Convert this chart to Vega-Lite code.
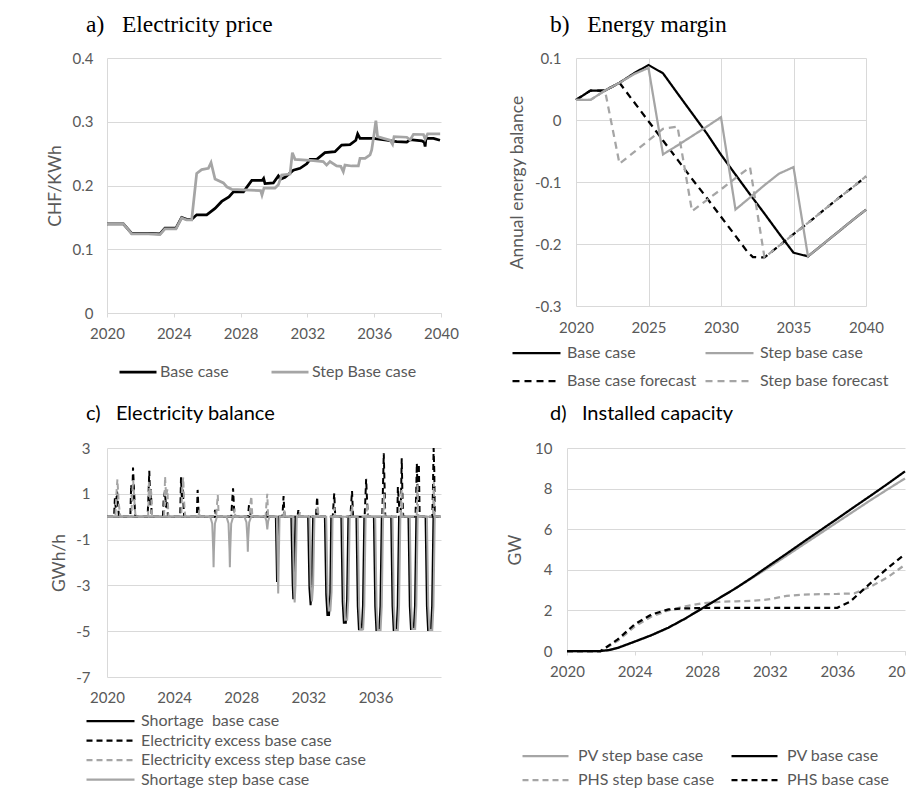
{
"$schema":"https://vega.github.io/schema/vega-lite/v6.json",
"autosize":{"type":"none"},
"padding":{"left":107,"top":58,"right":799,"bottom":735},
"background":"#ffffff",
"config":{
 "view":{"stroke":null},
 "font":"Lato",
 "axis":{"labelFont":"Lato","labelFontSize":15,"labelColor":"#595959","titleFont":"Lato","titleFontSize":17.5,"titleColor":"#595959","titleFontWeight":"normal","gridColor":"#d9d9d9","gridWidth":1,"domainColor":"#d9d9d9","domainWidth":1,"tickColor":"#d9d9d9","labelFlush":false,"labelOverlap":false},
 "legend":{"labelFont":"Lato","labelFontSize":16,"labelColor":"#595959","symbolType":"stroke","padding":0,"labelLimit":400,"direction":"horizontal","clipHeight":18},
 "title":{"color":"#000000","fontWeight":"normal","anchor":"start","frame":"group"}
},
"datasets":{
 "price":[
  {"s":"Base case","t":2020,"v":0.140},{"s":"Base case","t":2020.98,"v":0.140},{"s":"Base case","t":2021.48,"v":0.125},{"s":"Base case","t":2022.47,"v":0.125},{"s":"Base case","t":2023.17,"v":0.124},{"s":"Base case","t":2023.47,"v":0.133},{"s":"Base case","t":2024.13,"v":0.133},{"s":"Base case","t":2024.47,"v":0.150},{"s":"Base case","t":2024.77,"v":0.147},{"s":"Base case","t":2025.07,"v":0.147},{"s":"Base case","t":2025.37,"v":0.154},{"s":"Base case","t":2025.97,"v":0.154},{"s":"Base case","t":2026.47,"v":0.164},{"s":"Base case","t":2026.87,"v":0.175},{"s":"Base case","t":2027.3,"v":0.182},{"s":"Base case","t":2027.57,"v":0.190},{"s":"Base case","t":2028.17,"v":0.190},{"s":"Base case","t":2028.67,"v":0.208},{"s":"Base case","t":2029.3,"v":0.208},{"s":"Base case","t":2029.38,"v":0.211},{"s":"Base case","t":2029.46,"v":0.203},{"s":"Base case","t":2029.96,"v":0.204},{"s":"Base case","t":2030.26,"v":0.215},{"s":"Base case","t":2030.4,"v":0.210},{"s":"Base case","t":2030.66,"v":0.213},{"s":"Base case","t":2031.16,"v":0.224},{"s":"Base case","t":2031.56,"v":0.227},{"s":"Base case","t":2031.96,"v":0.234},{"s":"Base case","t":2032.16,"v":0.241},{"s":"Base case","t":2032.56,"v":0.241},{"s":"Base case","t":2033.05,"v":0.2515},{"s":"Base case","t":2033.65,"v":0.253},{"s":"Base case","t":2034.05,"v":0.2635},{"s":"Base case","t":2034.55,"v":0.264},{"s":"Base case","t":2034.9,"v":0.271},{"s":"Base case","t":2035.01,"v":0.281},{"s":"Base case","t":2035.15,"v":0.274},{"s":"Base case","t":2035.95,"v":0.274},{"s":"Base case","t":2036.75,"v":0.271},{"s":"Base case","t":2037.35,"v":0.269},{"s":"Base case","t":2037.95,"v":0.268},{"s":"Base case","t":2038.15,"v":0.272},{"s":"Base case","t":2038.85,"v":0.270},{"s":"Base case","t":2039.0,"v":0.268},{"s":"Base case","t":2039.05,"v":0.261},{"s":"Base case","t":2039.1,"v":0.274},{"s":"Base case","t":2039.55,"v":0.274},{"s":"Base case","t":2039.94,"v":0.271},
  {"s":"Step Base case","t":2020,"v":0.140},{"s":"Step Base case","t":2020.98,"v":0.140},{"s":"Step Base case","t":2021.48,"v":0.124},{"s":"Step Base case","t":2022.47,"v":0.124},{"s":"Step Base case","t":2023.17,"v":0.123},{"s":"Step Base case","t":2023.47,"v":0.132},{"s":"Step Base case","t":2024.13,"v":0.132},{"s":"Step Base case","t":2024.47,"v":0.149},{"s":"Step Base case","t":2024.77,"v":0.146},{"s":"Step Base case","t":2025.07,"v":0.146},{"s":"Step Base case","t":2025.37,"v":0.219},{"s":"Step Base case","t":2025.67,"v":0.225},{"s":"Step Base case","t":2026.07,"v":0.227},{"s":"Step Base case","t":2026.23,"v":0.236},{"s":"Step Base case","t":2026.47,"v":0.210},{"s":"Step Base case","t":2026.97,"v":0.204},{"s":"Step Base case","t":2027.17,"v":0.198},{"s":"Step Base case","t":2027.47,"v":0.194},{"s":"Step Base case","t":2028.17,"v":0.193},{"s":"Step Base case","t":2029.2,"v":0.192},{"s":"Step Base case","t":2029.28,"v":0.185},{"s":"Step Base case","t":2029.4,"v":0.196},{"s":"Step Base case","t":2030.06,"v":0.196},{"s":"Step Base case","t":2030.26,"v":0.201},{"s":"Step Base case","t":2030.46,"v":0.2165},{"s":"Step Base case","t":2030.96,"v":0.218},{"s":"Step Base case","t":2031.1,"v":0.2515},{"s":"Step Base case","t":2031.26,"v":0.241},{"s":"Step Base case","t":2032.36,"v":0.239},{"s":"Step Base case","t":2032.95,"v":0.2375},{"s":"Step Base case","t":2033.15,"v":0.232},{"s":"Step Base case","t":2033.35,"v":0.2375},{"s":"Step Base case","t":2033.75,"v":0.2306},{"s":"Step Base case","t":2034.0,"v":0.230},{"s":"Step Base case","t":2034.15,"v":0.2217},{"s":"Step Base case","t":2034.25,"v":0.232},{"s":"Step Base case","t":2034.65,"v":0.2306},{"s":"Step Base case","t":2035.05,"v":0.2306},{"s":"Step Base case","t":2035.15,"v":0.2426},{"s":"Step Base case","t":2035.45,"v":0.2426},{"s":"Step Base case","t":2035.75,"v":0.248},{"s":"Step Base case","t":2035.85,"v":0.2557},{"s":"Step Base case","t":2036.0,"v":0.282},{"s":"Step Base case","t":2036.1,"v":0.3017},{"s":"Step Base case","t":2036.2,"v":0.2767},{"s":"Step Base case","t":2036.55,"v":0.274},{"s":"Step Base case","t":2036.95,"v":0.271},{"s":"Step Base case","t":2037.1,"v":0.2646},{"s":"Step Base case","t":2037.19,"v":0.2767},{"s":"Step Base case","t":2037.95,"v":0.2757},{"s":"Step Base case","t":2038.15,"v":0.2715},{"s":"Step Base case","t":2038.35,"v":0.2803},{"s":"Step Base case","t":2038.95,"v":0.280},{"s":"Step Base case","t":2039.05,"v":0.273},{"s":"Step Base case","t":2039.2,"v":0.281},{"s":"Step Base case","t":2039.95,"v":0.281}
 ],
 "margin":[
  {"s":"Base case","t":2020,"v":0.0324},{"s":"Base case","t":2021,"v":0.0475},{"s":"Base case","t":2022,"v":0.0475},{"s":"Base case","t":2023,"v":0.06},{"s":"Base case","t":2024,"v":0.0753},{"s":"Base case","t":2025,"v":0.0887},{"s":"Base case","t":2026,"v":0.0753},{"s":"Base case","t":2027,"v":0.043},{"s":"Base case","t":2028,"v":0.011},{"s":"Base case","t":2029,"v":-0.021},{"s":"Base case","t":2030,"v":-0.056},{"s":"Base case","t":2031,"v":-0.088},{"s":"Base case","t":2032,"v":-0.12},{"s":"Base case","t":2033,"v":-0.151},{"s":"Base case","t":2034,"v":-0.183},{"s":"Base case","t":2035,"v":-0.214},{"s":"Base case","t":2036,"v":-0.22},{"s":"Base case","t":2037,"v":-0.201},{"s":"Base case","t":2038,"v":-0.182},{"s":"Base case","t":2039,"v":-0.163},{"s":"Base case","t":2040,"v":-0.1445},
  {"s":"Base case forecast","t":2020,"v":0.0324},{"s":"Base case forecast","t":2021,"v":0.0475},{"s":"Base case forecast","t":2022,"v":0.0475},{"s":"Base case forecast","t":2023,"v":0.06},{"s":"Base case forecast","t":2024,"v":0.029},{"s":"Base case forecast","t":2025,"v":-0.002},{"s":"Base case forecast","t":2026,"v":-0.033},{"s":"Base case forecast","t":2027,"v":-0.064},{"s":"Base case forecast","t":2028,"v":-0.095},{"s":"Base case forecast","t":2029,"v":-0.125},{"s":"Base case forecast","t":2030,"v":-0.156},{"s":"Base case forecast","t":2031,"v":-0.187},{"s":"Base case forecast","t":2031.8,"v":-0.212},{"s":"Base case forecast","t":2032.2,"v":-0.221},{"s":"Base case forecast","t":2033,"v":-0.2217},{"s":"Base case forecast","t":2034,"v":-0.203},{"s":"Base case forecast","t":2035,"v":-0.184},{"s":"Base case forecast","t":2036,"v":-0.166},{"s":"Base case forecast","t":2037,"v":-0.147},{"s":"Base case forecast","t":2038,"v":-0.128},{"s":"Base case forecast","t":2039,"v":-0.110},{"s":"Base case forecast","t":2040,"v":-0.091},
  {"s":"Step base forecast","t":2020,"v":0.0324},{"s":"Step base forecast","t":2021,"v":0.0324},{"s":"Step base forecast","t":2022,"v":0.0475},{"s":"Step base forecast","t":2023,"v":-0.0705},{"s":"Step base forecast","t":2024,"v":-0.052},{"s":"Step base forecast","t":2025,"v":-0.033},{"s":"Step base forecast","t":2026,"v":-0.0142},{"s":"Step base forecast","t":2027,"v":-0.0105},{"s":"Step base forecast","t":2028,"v":-0.147},{"s":"Step base forecast","t":2029,"v":-0.1295},{"s":"Step base forecast","t":2030,"v":-0.112},{"s":"Step base forecast","t":2031,"v":-0.0936},{"s":"Step base forecast","t":2032,"v":-0.076},{"s":"Step base forecast","t":2033,"v":-0.2217},{"s":"Step base forecast","t":2034,"v":-0.203},{"s":"Step base forecast","t":2035,"v":-0.184},{"s":"Step base forecast","t":2036,"v":-0.166},{"s":"Step base forecast","t":2037,"v":-0.147},{"s":"Step base forecast","t":2038,"v":-0.128},{"s":"Step base forecast","t":2039,"v":-0.110},{"s":"Step base forecast","t":2040,"v":-0.091},
  {"s":"Step base case","t":2020,"v":0.0324},{"s":"Step base case","t":2021,"v":0.0324},{"s":"Step base case","t":2022,"v":0.0475},{"s":"Step base case","t":2023,"v":0.06},{"s":"Step base case","t":2024,"v":0.074},{"s":"Step base case","t":2025,"v":0.084},{"s":"Step base case","t":2026,"v":-0.0555},{"s":"Step base case","t":2027,"v":-0.041},{"s":"Step base case","t":2028,"v":-0.026},{"s":"Step base case","t":2029,"v":-0.011},{"s":"Step base case","t":2030,"v":0.0046},{"s":"Step base case","t":2031,"v":-0.1445},{"s":"Step base case","t":2032,"v":-0.125},{"s":"Step base case","t":2033,"v":-0.105},{"s":"Step base case","t":2034,"v":-0.0866},{"s":"Step base case","t":2035,"v":-0.0759},{"s":"Step base case","t":2036,"v":-0.22},{"s":"Step base case","t":2037,"v":-0.201},{"s":"Step base case","t":2038,"v":-0.182},{"s":"Step base case","t":2039,"v":-0.163},{"s":"Step base case","t":2040,"v":-0.1445}
 ],
 "balance":[
  {"s":"Shortage\u00a0 base case","t":2020,"v":0},{"s":"Shortage\u00a0 base case","t":2030.06,"v":0},{"s":"Shortage\u00a0 base case","t":2030.13,"v":-2.85},{"s":"Shortage\u00a0 base case","t":2030.21,"v":0},{"s":"Shortage\u00a0 base case","t":2030.98,"v":0},{"s":"Shortage\u00a0 base case","t":2031.06,"v":-2.9},{"s":"Shortage\u00a0 base case","t":2031.1,"v":-3.6},{"s":"Shortage\u00a0 base case","t":2031.15,"v":-2.9},{"s":"Shortage\u00a0 base case","t":2031.23,"v":0},{"s":"Shortage\u00a0 base case","t":2031.98,"v":0},{"s":"Shortage\u00a0 base case","t":2032.06,"v":-3.1},{"s":"Shortage\u00a0 base case","t":2032.13,"v":-3.86},{"s":"Shortage\u00a0 base case","t":2032.2,"v":-3.1},{"s":"Shortage\u00a0 base case","t":2032.28,"v":0},{"s":"Shortage\u00a0 base case","t":2032.98,"v":0},{"s":"Shortage\u00a0 base case","t":2033.06,"v":-3.4},{"s":"Shortage\u00a0 base case","t":2033.13,"v":-4.29},{"s":"Shortage\u00a0 base case","t":2033.23,"v":-4.29},{"s":"Shortage\u00a0 base case","t":2033.3,"v":-3.4},{"s":"Shortage\u00a0 base case","t":2033.36,"v":0},{"s":"Shortage\u00a0 base case","t":2033.96,"v":0},{"s":"Shortage\u00a0 base case","t":2034.04,"v":-3.7},{"s":"Shortage\u00a0 base case","t":2034.11,"v":-4.63},{"s":"Shortage\u00a0 base case","t":2034.23,"v":-4.63},{"s":"Shortage\u00a0 base case","t":2034.3,"v":-3.7},{"s":"Shortage\u00a0 base case","t":2034.38,"v":0},{"s":"Shortage\u00a0 base case","t":2034.86,"v":0},{"s":"Shortage\u00a0 base case","t":2034.94,"v":-3.9},{"s":"Shortage\u00a0 base case","t":2035.01,"v":-4.92},{"s":"Shortage\u00a0 base case","t":2035.18,"v":-4.92},{"s":"Shortage\u00a0 base case","t":2035.25,"v":-3.9},{"s":"Shortage\u00a0 base case","t":2035.33,"v":0},{"s":"Shortage\u00a0 base case","t":2035.9,"v":0},{"s":"Shortage\u00a0 base case","t":2035.98,"v":-3.9},{"s":"Shortage\u00a0 base case","t":2036.05,"v":-4.95},{"s":"Shortage\u00a0 base case","t":2036.22,"v":-4.95},{"s":"Shortage\u00a0 base case","t":2036.29,"v":-3.9},{"s":"Shortage\u00a0 base case","t":2036.37,"v":0},{"s":"Shortage\u00a0 base case","t":2036.93,"v":0},{"s":"Shortage\u00a0 base case","t":2037.01,"v":-3.9},{"s":"Shortage\u00a0 base case","t":2037.08,"v":-4.95},{"s":"Shortage\u00a0 base case","t":2037.25,"v":-4.95},{"s":"Shortage\u00a0 base case","t":2037.32,"v":-3.9},{"s":"Shortage\u00a0 base case","t":2037.4,"v":0},{"s":"Shortage\u00a0 base case","t":2037.96,"v":0},{"s":"Shortage\u00a0 base case","t":2038.04,"v":-3.9},{"s":"Shortage\u00a0 base case","t":2038.11,"v":-4.9},{"s":"Shortage\u00a0 base case","t":2038.28,"v":-4.9},{"s":"Shortage\u00a0 base case","t":2038.35,"v":-3.9},{"s":"Shortage\u00a0 base case","t":2038.43,"v":0},{"s":"Shortage\u00a0 base case","t":2038.98,"v":0},{"s":"Shortage\u00a0 base case","t":2039.06,"v":-3.9},{"s":"Shortage\u00a0 base case","t":2039.13,"v":-4.95},{"s":"Shortage\u00a0 base case","t":2039.3,"v":-4.95},{"s":"Shortage\u00a0 base case","t":2039.37,"v":-3.9},{"s":"Shortage\u00a0 base case","t":2039.45,"v":0},{"s":"Shortage\u00a0 base case","t":2039.9,"v":0},
  {"s":"Electricity excess base case","t":2020,"v":0},{"s":"Electricity excess base case","t":2020.42,"v":0},{"s":"Electricity excess base case","t":2020.47,"v":0.8},{"s":"Electricity excess base case","t":2020.52,"v":0.4},{"s":"Electricity excess base case","t":2020.6,"v":1.1},{"s":"Electricity excess base case","t":2020.66,"v":0.5},{"s":"Electricity excess base case","t":2020.71,"v":0},
  {"s":"Electricity excess base case","t":2021.39,"v":0},{"s":"Electricity excess base case","t":2021.44,"v":1.4},{"s":"Electricity excess base case","t":2021.5,"v":0.6},{"s":"Electricity excess base case","t":2021.55,"v":2.15},{"s":"Electricity excess base case","t":2021.62,"v":1.0},{"s":"Electricity excess base case","t":2021.68,"v":0},
  {"s":"Electricity excess base case","t":2022.42,"v":0},{"s":"Electricity excess base case","t":2022.47,"v":0.9},{"s":"Electricity excess base case","t":2022.52,"v":2.0},{"s":"Electricity excess base case","t":2022.58,"v":0.5},{"s":"Electricity excess base case","t":2022.62,"v":1.2},{"s":"Electricity excess base case","t":2022.66,"v":0},
  {"s":"Electricity excess base case","t":2023.33,"v":0},{"s":"Electricity excess base case","t":2023.38,"v":0.8},{"s":"Electricity excess base case","t":2023.45,"v":1.1},{"s":"Electricity excess base case","t":2023.52,"v":0.4},{"s":"Electricity excess base case","t":2023.58,"v":0.7},{"s":"Electricity excess base case","t":2023.63,"v":0},
  {"s":"Electricity excess base case","t":2024.36,"v":0},{"s":"Electricity excess base case","t":2024.41,"v":1.72},{"s":"Electricity excess base case","t":2024.46,"v":0.8},{"s":"Electricity excess base case","t":2024.52,"v":1.2},{"s":"Electricity excess base case","t":2024.57,"v":0.3},{"s":"Electricity excess base case","t":2024.6,"v":0},
  {"s":"Electricity excess base case","t":2025.35,"v":0},{"s":"Electricity excess base case","t":2025.4,"v":1.17},{"s":"Electricity excess base case","t":2025.45,"v":0.3},{"s":"Electricity excess base case","t":2025.48,"v":0},
  {"s":"Electricity excess base case","t":2026.38,"v":0},{"s":"Electricity excess base case","t":2026.44,"v":0.3},{"s":"Electricity excess base case","t":2026.5,"v":0},
  {"s":"Electricity excess base case","t":2027.4,"v":0},{"s":"Electricity excess base case","t":2027.46,"v":0.7},{"s":"Electricity excess base case","t":2027.51,"v":1.24},{"s":"Electricity excess base case","t":2027.56,"v":0.5},{"s":"Electricity excess base case","t":2027.6,"v":0},
  {"s":"Electricity excess base case","t":2028.4,"v":0},{"s":"Electricity excess base case","t":2028.46,"v":0.51},{"s":"Electricity excess base case","t":2028.52,"v":0.3},{"s":"Electricity excess base case","t":2028.56,"v":0},
  {"s":"Electricity excess base case","t":2029.45,"v":0},{"s":"Electricity excess base case","t":2029.5,"v":0.12},{"s":"Electricity excess base case","t":2029.55,"v":0},
  {"s":"Electricity excess base case","t":2030.45,"v":0},{"s":"Electricity excess base case","t":2030.52,"v":0.9},{"s":"Electricity excess base case","t":2030.58,"v":0},
  {"s":"Electricity excess base case","t":2031.35,"v":0},{"s":"Electricity excess base case","t":2031.4,"v":0.29},{"s":"Electricity excess base case","t":2031.45,"v":0},
  {"s":"Electricity excess base case","t":2032.45,"v":0},{"s":"Electricity excess base case","t":2032.52,"v":0.87},{"s":"Electricity excess base case","t":2032.58,"v":0},
  {"s":"Electricity excess base case","t":2033.45,"v":0},{"s":"Electricity excess base case","t":2033.5,"v":0.6},{"s":"Electricity excess base case","t":2033.54,"v":1.02},{"s":"Electricity excess base case","t":2033.6,"v":0},
  {"s":"Electricity excess base case","t":2034.5,"v":0},{"s":"Electricity excess base case","t":2034.55,"v":0.6},{"s":"Electricity excess base case","t":2034.6,"v":1.12},{"s":"Electricity excess base case","t":2034.66,"v":0},
  {"s":"Electricity excess base case","t":2035.35,"v":0},{"s":"Electricity excess base case","t":2035.4,"v":0.9},{"s":"Electricity excess base case","t":2035.44,"v":1.65},{"s":"Electricity excess base case","t":2035.5,"v":0.6},{"s":"Electricity excess base case","t":2035.55,"v":0},
  {"s":"Electricity excess base case","t":2036.4,"v":0},{"s":"Electricity excess base case","t":2036.44,"v":1.2},{"s":"Electricity excess base case","t":2036.49,"v":2.77},{"s":"Electricity excess base case","t":2036.53,"v":1.6},{"s":"Electricity excess base case","t":2036.58,"v":0},
  {"s":"Electricity excess base case","t":2037.3,"v":0},{"s":"Electricity excess base case","t":2037.33,"v":1.3},{"s":"Electricity excess base case","t":2037.4,"v":0.5},{"s":"Electricity excess base case","t":2037.5,"v":0.2},{"s":"Electricity excess base case","t":2037.56,"v":2.55},{"s":"Electricity excess base case","t":2037.6,"v":1.0},{"s":"Electricity excess base case","t":2037.65,"v":0},
  {"s":"Electricity excess base case","t":2038.38,"v":0},{"s":"Electricity excess base case","t":2038.42,"v":1.0},{"s":"Electricity excess base case","t":2038.46,"v":2.33},{"s":"Electricity excess base case","t":2038.52,"v":0.6},{"s":"Electricity excess base case","t":2038.58,"v":2.3},{"s":"Electricity excess base case","t":2038.63,"v":0},
  {"s":"Electricity excess base case","t":2039.38,"v":0},{"s":"Electricity excess base case","t":2039.42,"v":1.2},{"s":"Electricity excess base case","t":2039.46,"v":3.0},{"s":"Electricity excess base case","t":2039.5,"v":2.0},{"s":"Electricity excess base case","t":2039.53,"v":0},{"s":"Electricity excess base case","t":2039.9,"v":0},
  {"s":"Electricity excess step base case","t":2020,"v":0},{"s":"Electricity excess step base case","t":2020.5,"v":0},{"s":"Electricity excess step base case","t":2020.56,"v":1.0},{"s":"Electricity excess step base case","t":2020.62,"v":1.63},{"s":"Electricity excess step base case","t":2020.7,"v":0.6},{"s":"Electricity excess step base case","t":2020.76,"v":0.2},{"s":"Electricity excess step base case","t":2020.8,"v":0},
  {"s":"Electricity excess step base case","t":2021.45,"v":0},{"s":"Electricity excess step base case","t":2021.5,"v":1.0},{"s":"Electricity excess step base case","t":2021.56,"v":1.6},{"s":"Electricity excess step base case","t":2021.63,"v":0.7},{"s":"Electricity excess step base case","t":2021.7,"v":0},
  {"s":"Electricity excess step base case","t":2022.45,"v":0},{"s":"Electricity excess step base case","t":2022.5,"v":1.5},{"s":"Electricity excess step base case","t":2022.56,"v":0.8},{"s":"Electricity excess step base case","t":2022.62,"v":1.2},{"s":"Electricity excess step base case","t":2022.68,"v":0},
  {"s":"Electricity excess step base case","t":2023.4,"v":0},{"s":"Electricity excess step base case","t":2023.46,"v":1.75},{"s":"Electricity excess step base case","t":2023.52,"v":0.9},{"s":"Electricity excess step base case","t":2023.6,"v":1.2},{"s":"Electricity excess step base case","t":2023.66,"v":0},
  {"s":"Electricity excess step base case","t":2024.42,"v":0},{"s":"Electricity excess step base case","t":2024.48,"v":1.2},{"s":"Electricity excess step base case","t":2024.54,"v":1.72},{"s":"Electricity excess step base case","t":2024.6,"v":0.6},{"s":"Electricity excess step base case","t":2024.66,"v":0},
  {"s":"Electricity excess step base case","t":2025.45,"v":0},{"s":"Electricity excess step base case","t":2025.5,"v":0.3},{"s":"Electricity excess step base case","t":2025.55,"v":0},
  {"s":"Electricity excess step base case","t":2026.5,"v":0},{"s":"Electricity excess step base case","t":2026.56,"v":0.6},{"s":"Electricity excess step base case","t":2026.6,"v":0.95},{"s":"Electricity excess step base case","t":2026.66,"v":0},
  {"s":"Electricity excess step base case","t":2027.55,"v":0},{"s":"Electricity excess step base case","t":2027.6,"v":0.35},{"s":"Electricity excess step base case","t":2027.65,"v":0},
  {"s":"Electricity excess step base case","t":2028.5,"v":0},{"s":"Electricity excess step base case","t":2028.55,"v":0.6},{"s":"Electricity excess step base case","t":2028.6,"v":0.9},{"s":"Electricity excess step base case","t":2028.66,"v":0},
  {"s":"Electricity excess step base case","t":2029.45,"v":0},{"s":"Electricity excess step base case","t":2029.5,"v":0.6},{"s":"Electricity excess step base case","t":2029.55,"v":1.0},{"s":"Electricity excess step base case","t":2029.6,"v":0},
  {"s":"Electricity excess step base case","t":2030.5,"v":0},{"s":"Electricity excess step base case","t":2030.56,"v":0.3},{"s":"Electricity excess step base case","t":2030.6,"v":0},
  {"s":"Electricity excess step base case","t":2031.45,"v":0},{"s":"Electricity excess step base case","t":2031.5,"v":0.2},{"s":"Electricity excess step base case","t":2031.55,"v":0},
  {"s":"Electricity excess step base case","t":2032.5,"v":0},{"s":"Electricity excess step base case","t":2032.56,"v":0.5},{"s":"Electricity excess step base case","t":2032.6,"v":0},
  {"s":"Electricity excess step base case","t":2033.5,"v":0},{"s":"Electricity excess step base case","t":2033.56,"v":0.4},{"s":"Electricity excess step base case","t":2033.6,"v":0},
  {"s":"Electricity excess step base case","t":2034.55,"v":0},{"s":"Electricity excess step base case","t":2034.6,"v":0.5},{"s":"Electricity excess step base case","t":2034.65,"v":0},
  {"s":"Electricity excess step base case","t":2035.45,"v":0},{"s":"Electricity excess step base case","t":2035.5,"v":0.6},{"s":"Electricity excess step base case","t":2035.55,"v":0},
  {"s":"Electricity excess step base case","t":2036.45,"v":0},{"s":"Electricity excess step base case","t":2036.5,"v":1.0},{"s":"Electricity excess step base case","t":2036.55,"v":0},
  {"s":"Electricity excess step base case","t":2037.5,"v":0},{"s":"Electricity excess step base case","t":2037.55,"v":1.2},{"s":"Electricity excess step base case","t":2037.6,"v":0},
  {"s":"Electricity excess step base case","t":2038.45,"v":0},{"s":"Electricity excess step base case","t":2038.5,"v":1.4},{"s":"Electricity excess step base case","t":2038.55,"v":0},
  {"s":"Electricity excess step base case","t":2039.42,"v":0},{"s":"Electricity excess step base case","t":2039.47,"v":1.5},{"s":"Electricity excess step base case","t":2039.52,"v":0},{"s":"Electricity excess step base case","t":2039.9,"v":0},
  {"s":"Shortage step base case","t":2020,"v":0},{"s":"Shortage step base case","t":2026.15,"v":0},{"s":"Shortage step base case","t":2026.27,"v":-0.3},{"s":"Shortage step base case","t":2026.33,"v":-1.5},{"s":"Shortage step base case","t":2026.35,"v":-2.21},{"s":"Shortage step base case","t":2026.37,"v":-1.5},{"s":"Shortage step base case","t":2026.43,"v":-0.3},{"s":"Shortage step base case","t":2026.55,"v":0},
  {"s":"Shortage step base case","t":2027.12,"v":0},{"s":"Shortage step base case","t":2027.24,"v":-0.3},{"s":"Shortage step base case","t":2027.3,"v":-1.5},{"s":"Shortage step base case","t":2027.32,"v":-2.21},{"s":"Shortage step base case","t":2027.34,"v":-1.5},{"s":"Shortage step base case","t":2027.4,"v":-0.3},{"s":"Shortage step base case","t":2027.52,"v":0},
  {"s":"Shortage step base case","t":2028.19,"v":0},{"s":"Shortage step base case","t":2028.31,"v":-0.25},{"s":"Shortage step base case","t":2028.37,"v":-1.0},{"s":"Shortage step base case","t":2028.39,"v":-1.53},{"s":"Shortage step base case","t":2028.41,"v":-1.0},{"s":"Shortage step base case","t":2028.47,"v":-0.25},{"s":"Shortage step base case","t":2028.59,"v":0},
  {"s":"Shortage step base case","t":2029.42,"v":0},{"s":"Shortage step base case","t":2029.5,"v":-0.2},{"s":"Shortage step base case","t":2029.55,"v":-0.55},{"s":"Shortage step base case","t":2029.6,"v":-0.2},{"s":"Shortage step base case","t":2029.68,"v":0},
  {"s":"Shortage step base case","t":2030.12,"v":0},{"s":"Shortage step base case","t":2030.2,"v":-3.35},{"s":"Shortage step base case","t":2030.28,"v":0},
  {"s":"Shortage step base case","t":2031.06,"v":0},{"s":"Shortage step base case","t":2031.14,"v":-3.0},{"s":"Shortage step base case","t":2031.18,"v":-3.75},{"s":"Shortage step base case","t":2031.23,"v":-3.0},{"s":"Shortage step base case","t":2031.31,"v":0},
  {"s":"Shortage step base case","t":2032.06,"v":0},{"s":"Shortage step base case","t":2032.14,"v":-3.0},{"s":"Shortage step base case","t":2032.21,"v":-3.7},{"s":"Shortage step base case","t":2032.28,"v":-3.0},{"s":"Shortage step base case","t":2032.36,"v":0},
  {"s":"Shortage step base case","t":2033.06,"v":0},{"s":"Shortage step base case","t":2033.14,"v":-3.3},{"s":"Shortage step base case","t":2033.21,"v":-4.1},{"s":"Shortage step base case","t":2033.31,"v":-4.1},{"s":"Shortage step base case","t":2033.38,"v":-3.3},{"s":"Shortage step base case","t":2033.44,"v":0},
  {"s":"Shortage step base case","t":2034.04,"v":0},{"s":"Shortage step base case","t":2034.12,"v":-3.6},{"s":"Shortage step base case","t":2034.19,"v":-4.5},{"s":"Shortage step base case","t":2034.31,"v":-4.5},{"s":"Shortage step base case","t":2034.38,"v":-3.6},{"s":"Shortage step base case","t":2034.46,"v":0},
  {"s":"Shortage step base case","t":2034.94,"v":0},{"s":"Shortage step base case","t":2035.02,"v":-3.9},{"s":"Shortage step base case","t":2035.09,"v":-4.92},{"s":"Shortage step base case","t":2035.26,"v":-4.92},{"s":"Shortage step base case","t":2035.33,"v":-3.9},{"s":"Shortage step base case","t":2035.41,"v":0},
  {"s":"Shortage step base case","t":2035.98,"v":0},{"s":"Shortage step base case","t":2036.06,"v":-3.9},{"s":"Shortage step base case","t":2036.13,"v":-4.95},{"s":"Shortage step base case","t":2036.3,"v":-4.95},{"s":"Shortage step base case","t":2036.37,"v":-3.9},{"s":"Shortage step base case","t":2036.45,"v":0},
  {"s":"Shortage step base case","t":2037.01,"v":0},{"s":"Shortage step base case","t":2037.09,"v":-3.9},{"s":"Shortage step base case","t":2037.16,"v":-4.95},{"s":"Shortage step base case","t":2037.33,"v":-4.95},{"s":"Shortage step base case","t":2037.4,"v":-3.9},{"s":"Shortage step base case","t":2037.48,"v":0},
  {"s":"Shortage step base case","t":2038.04,"v":0},{"s":"Shortage step base case","t":2038.12,"v":-3.9},{"s":"Shortage step base case","t":2038.19,"v":-4.9},{"s":"Shortage step base case","t":2038.36,"v":-4.9},{"s":"Shortage step base case","t":2038.43,"v":-3.9},{"s":"Shortage step base case","t":2038.51,"v":0},
  {"s":"Shortage step base case","t":2039.06,"v":0},{"s":"Shortage step base case","t":2039.14,"v":-3.9},{"s":"Shortage step base case","t":2039.21,"v":-4.95},{"s":"Shortage step base case","t":2039.38,"v":-4.95},{"s":"Shortage step base case","t":2039.45,"v":-3.9},{"s":"Shortage step base case","t":2039.53,"v":0},{"s":"Shortage step base case","t":2039.9,"v":0}
 ],
 "capacity":[
  {"s":"PV step base case","t":2020,"v":0},{"s":"PV step base case","t":2021,"v":0},{"s":"PV step base case","t":2022,"v":0},{"s":"PV step base case","t":2022.5,"v":0.05},{"s":"PV step base case","t":2023,"v":0.15},{"s":"PV step base case","t":2024,"v":0.46},{"s":"PV step base case","t":2025,"v":0.78},{"s":"PV step base case","t":2026,"v":1.15},{"s":"PV step base case","t":2027,"v":1.6},{"s":"PV step base case","t":2028,"v":2.1},{"s":"PV step base case","t":2029,"v":2.6},{"s":"PV step base case","t":2030,"v":3.1},{"s":"PV step base case","t":2031,"v":3.62},{"s":"PV step base case","t":2032,"v":4.15},{"s":"PV step base case","t":2033,"v":4.7},{"s":"PV step base case","t":2034,"v":5.25},{"s":"PV step base case","t":2035,"v":5.8},{"s":"PV step base case","t":2036,"v":6.35},{"s":"PV step base case","t":2037,"v":6.9},{"s":"PV step base case","t":2038,"v":7.45},{"s":"PV step base case","t":2039,"v":7.98},{"s":"PV step base case","t":2040,"v":8.5},
  {"s":"PHS step base case","t":2020,"v":0},{"s":"PHS step base case","t":2021,"v":0},{"s":"PHS step base case","t":2022,"v":0},{"s":"PHS step base case","t":2023,"v":0.5},{"s":"PHS step base case","t":2024,"v":1.2},{"s":"PHS step base case","t":2025,"v":1.7},{"s":"PHS step base case","t":2026,"v":2.0},{"s":"PHS step base case","t":2027,"v":2.2},{"s":"PHS step base case","t":2028,"v":2.35},{"s":"PHS step base case","t":2029,"v":2.42},{"s":"PHS step base case","t":2030,"v":2.45},{"s":"PHS step base case","t":2031,"v":2.47},{"s":"PHS step base case","t":2032,"v":2.55},{"s":"PHS step base case","t":2033,"v":2.72},{"s":"PHS step base case","t":2034,"v":2.78},{"s":"PHS step base case","t":2035,"v":2.8},{"s":"PHS step base case","t":2036,"v":2.81},{"s":"PHS step base case","t":2037,"v":2.84},{"s":"PHS step base case","t":2038,"v":3.18},{"s":"PHS step base case","t":2039,"v":3.65},{"s":"PHS step base case","t":2040,"v":4.25},
  {"s":"PV base case","t":2020,"v":0},{"s":"PV base case","t":2021,"v":0},{"s":"PV base case","t":2022,"v":0},{"s":"PV base case","t":2022.5,"v":0.05},{"s":"PV base case","t":2023,"v":0.15},{"s":"PV base case","t":2024,"v":0.46},{"s":"PV base case","t":2025,"v":0.78},{"s":"PV base case","t":2026,"v":1.15},{"s":"PV base case","t":2027,"v":1.6},{"s":"PV base case","t":2028,"v":2.1},{"s":"PV base case","t":2029,"v":2.6},{"s":"PV base case","t":2030,"v":3.1},{"s":"PV base case","t":2031,"v":3.65},{"s":"PV base case","t":2032,"v":4.23},{"s":"PV base case","t":2033,"v":4.8},{"s":"PV base case","t":2034,"v":5.38},{"s":"PV base case","t":2035,"v":5.95},{"s":"PV base case","t":2036,"v":6.52},{"s":"PV base case","t":2037,"v":7.1},{"s":"PV base case","t":2038,"v":7.67},{"s":"PV base case","t":2039,"v":8.25},{"s":"PV base case","t":2040,"v":8.85},
  {"s":"PHS base case","t":2020,"v":0},{"s":"PHS base case","t":2021,"v":0},{"s":"PHS base case","t":2022,"v":0},{"s":"PHS base case","t":2023,"v":0.57},{"s":"PHS base case","t":2024,"v":1.31},{"s":"PHS base case","t":2025,"v":1.8},{"s":"PHS base case","t":2026,"v":2.05},{"s":"PHS base case","t":2027,"v":2.1},{"s":"PHS base case","t":2028,"v":2.12},{"s":"PHS base case","t":2030,"v":2.12},{"s":"PHS base case","t":2032,"v":2.12},{"s":"PHS base case","t":2034,"v":2.12},{"s":"PHS base case","t":2036,"v":2.13},{"s":"PHS base case","t":2036.75,"v":2.43},{"s":"PHS base case","t":2037.5,"v":3.0},{"s":"PHS base case","t":2038.5,"v":3.74},{"s":"PHS base case","t":2039,"v":4.1},{"s":"PHS base case","t":2040,"v":4.78}
 ]
},
"spacing":390,
"bounds":"flush",
"resolve":{"scale":{"color":"independent","strokeDash":"independent"},"legend":{"color":"independent","strokeDash":"independent"}},
"vconcat":[
 {"spacing":135,"bounds":"flush",
  "resolve":{"scale":{"color":"independent","strokeDash":"independent"},"legend":{"color":"independent","strokeDash":"independent"}},
  "hconcat":[
  {"width":334,"height":255,
   "title":{"text":"a)\u00a0\u00a0\u00a0Electricity price","font":"Liberation Serif","fontSize":23.5,"dx":-21,"offset":15},
   "data":{"name":"price"},
   "mark":{"type":"line","strokeWidth":2.75},
   "encoding":{
    "x":{"field":"t","type":"quantitative","scale":{"domain":[2020,2040],"nice":false,"zero":false},"axis":{"title":null,"values":[2020,2024,2028,2032,2036,2040],"format":"d","grid":false,"domain":true,"ticks":true,"tickSize":4,"labelPadding":9}},
    "y":{"field":"v","type":"quantitative","scale":{"domain":[0,0.4],"nice":false},"axis":{"title":"CHF/KWh","values":[0,0.1,0.2,0.3,0.4],"format":"~g","grid":true,"domain":true,"ticks":false,"tickSize":0,"labelPadding":14,"titlePadding":8}},
    "color":{"field":"s","type":"nominal","sort":null,"scale":{"domain":["Base case","Step Base case"],"range":["#000000","#a5a5a5"]},"legend":{"orient":"none","legendX":11,"legendY":305,"columns":2,"columnPadding":41,"symbolSize":1369,"symbolStrokeWidth":2.75,"labelOffset":2,"title":null}}
   }
  },
  {"width":290,"height":248,
   "title":{"text":"b)\u00a0\u00a0\u00a0Energy margin","font":"Liberation Serif","fontSize":23.5,"dx":-26,"offset":15},
   "data":{"name":"margin"},
   "mark":{"type":"line","strokeWidth":2.25},
   "encoding":{
    "x":{"field":"t","type":"quantitative","scale":{"domain":[2020,2040],"nice":false,"zero":false},"axis":{"title":null,"values":[2020,2025,2030,2035,2040],"format":"d","grid":true,"domain":false,"ticks":false,"tickSize":0,"labelPadding":14}},
    "y":{"field":"v","type":"quantitative","scale":{"domain":[-0.3,0.1],"nice":false,"zero":false},"axis":{"title":"Annual energy balance","values":[-0.3,-0.2,-0.1,0,0.1],"labelExpr":"datum.value < 0 ? '-' + format(-datum.value, '~g') : format(datum.value, '~g')","grid":true,"domain":false,"ticks":false,"tickSize":0,"labelPadding":15,"titlePadding":8}},
    "color":{"field":"s","type":"nominal","sort":null,"scale":{"domain":["Base case","Step base case","Base case forecast","Step base forecast"],"range":["#000000","#a5a5a5","#000000","#a5a5a5"]},"legend":{"orient":"none","legendX":-65,"legendY":286,"columns":2,"columnPadding":7,"rowPadding":10,"symbolSize":2304,"symbolStrokeWidth":2.25,"labelOffset":5,"title":null}},
    "strokeDash":{"field":"s","type":"nominal","sort":null,"scale":{"domain":["Base case","Step base case","Base case forecast","Step base forecast"],"range":[[1,0],[1,0],[7,5],[7,5]]}}
   }
  }
 ]},
 {"spacing":126,"bounds":"flush",
  "resolve":{"scale":{"color":"independent","strokeDash":"independent"},"legend":{"color":"independent","strokeDash":"independent"}},
  "hconcat":[
  {"width":334,"height":229,
   "title":{"text":"c)\u00a0\u00a0\u00a0Electricity balance","font":"Lato","fontSize":20,"dx":-21,"offset":17},
   "data":{"name":"balance"},
   "mark":{"type":"line","strokeWidth":2},
   "encoding":{
    "x":{"field":"t","type":"quantitative","scale":{"domain":[2020,2039.9],"nice":false,"zero":false},"axis":{"title":null,"values":[2020,2024,2028,2032,2036],"format":"d","grid":false,"domain":false,"ticks":false,"tickSize":0,"labelPadding":13}},
    "y":{"field":"v","type":"quantitative","scale":{"domain":[-7,3],"nice":false,"zero":false},"axis":{"title":"GWh/h","values":[-7,-5,-3,-1,1,3],"labelExpr":"datum.value < 0 ? '-' + format(-datum.value, '~g') : format(datum.value, '~g')","grid":true,"domain":true,"ticks":false,"tickSize":0,"labelPadding":17,"titlePadding":7}},
    "color":{"field":"s","type":"nominal","sort":null,"scale":{"domain":["Shortage\u00a0 base case","Electricity excess base case","Electricity excess step base case","Shortage step base case"],"range":["#000000","#000000","#a5a5a5","#a5a5a5"]},"legend":{"orient":"none","legendX":-22,"legendY":264,"columns":1,"rowPadding":1.5,"symbolSize":2304,"symbolStrokeWidth":2.25,"labelOffset":5,"title":null}},
    "strokeDash":{"field":"s","type":"nominal","sort":null,"scale":{"domain":["Shortage\u00a0 base case","Electricity excess base case","Electricity excess step base case","Shortage step base case"],"range":[[1,0],[6,4],[6,4],[1,0]]}}
   }
  },
  {"width":338,"height":203,
   "title":{"text":"d)\u00a0\u00a0\u00a0Installed capacity","font":"Lato","fontSize":20,"dx":-17,"offset":17},
   "data":{"name":"capacity"},
   "mark":{"type":"line","strokeWidth":2.25},
   "encoding":{
    "x":{"field":"t","type":"quantitative","scale":{"domain":[2020,2040],"nice":false,"zero":false},"axis":{"title":null,"values":[2020,2024,2028,2032,2036,2040],"format":"d","grid":false,"domain":true,"ticks":true,"tickSize":4,"labelPadding":9}},
    "y":{"field":"v","type":"quantitative","scale":{"domain":[0,10],"nice":false},"axis":{"title":"GW","values":[0,2,4,6,8,10],"grid":true,"domain":true,"ticks":false,"tickSize":0,"labelPadding":15,"titlePadding":10}},
    "color":{"field":"s","type":"nominal","sort":null,"scale":{"domain":["PV step base case","PV base case","PHS step base case","PHS base case"],"range":["#a5a5a5","#000000","#a5a5a5","#000000"]},"legend":{"orient":"none","legendX":-46,"legendY":299,"columns":2,"columnPadding":15,"rowPadding":6,"symbolSize":2116,"symbolStrokeWidth":2.25,"labelOffset":8,"title":null}},
    "strokeDash":{"field":"s","type":"nominal","sort":null,"scale":{"domain":["PV step base case","PV base case","PHS step base case","PHS base case"],"range":[[1,0],[1,0],[6,4],[6,4]]}}
   }
  }
 ]}
]
}
